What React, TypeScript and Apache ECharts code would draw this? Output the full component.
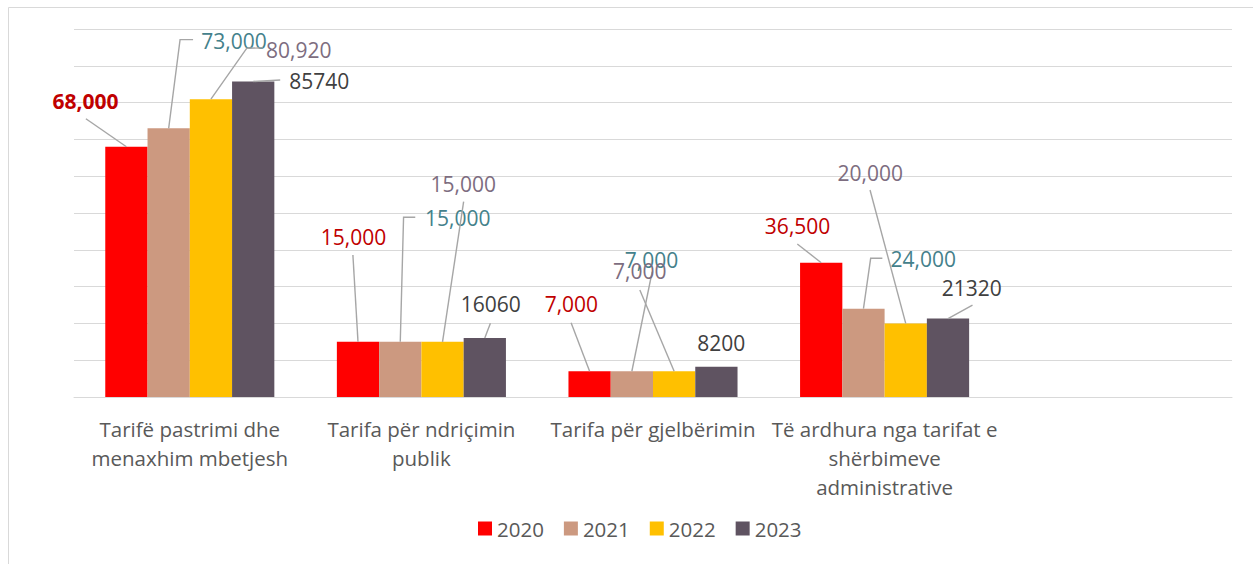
import React, { useEffect, useRef } from "react";
import * as echarts from "echarts";

// ---- data ----
const categories = [
  "Tarifë pastrimi dhe\nmenaxhim mbetjesh",
  "Tarifa për ndriçimin\npublik",
  "Tarifa për gjelbërimin",
  "Të ardhura nga tarifat e\nshërbimeve\nadministrative",
  "",
];
const years = ["2020", "2021", "2022", "2023"];
const values2020 = [68000, 15000, 7000, 36500];
const values2021 = [73000, 15000, 7000, 24000];
const values2022 = [80920, 15000, 7000, 20000];
const values2023 = [85740, 16060, 8200, 21320];
const yMin = 0;
const yMax = 100000;
const yInterval = 10000;

const seriesValues = [values2020, values2021, values2022, values2023];

// ---- styles ----
const barColors = ["#FF0000", "#CC9980", "#FFC000", "#5F5361"];
const labelColors = ["#C00000", "#44818B", "#7D6D80", "#404040"];
const FONT = '"Open Sans", "Noto Sans", sans-serif';
const CAT_GAP = 0.27;

// label placement (offsets relative to bar top centre), leader line points
type Spec = { t: number[]; l: number[][] | null; bold?: boolean };
const labelLayout: Spec[][] = [
  [
    { t: [-41, -45.5], l: [[-40.5, -28], [0, 0]], bold: true },
    { t: [-4.5, -105], l: [[-5.1, -86.8], [0, 0]] },
    { t: [-18.2, -67.2], l: [[-18.5, -48.5], [0, 0]] },
    { t: [-23.6, -36.7], l: [[-23.9, -18.7], [0, 0]] },
  ],
  [
    { t: [65.4, -87.7], l: [[24.4, -88.7], [11.4, -88.7], [0, 0]] },
    { t: [57.5, -123.8], l: [[15, -124.5], [3.3, -124.5], [0, 0]] },
    { t: [19.6, -111.2], l: [[20.3, -99.5], [0, 0]] },
    { t: [59.7, -49.7], l: [[18.9, -50.4], [7.2, -50.4], [0, 0]] },
  ],
  [
    { t: [87.9, -49.2], l: [[52.2, -51.3], [35.9, -51], [0, 0]] },
    { t: [20.8, -157.8], l: [[21.1, -140.1], [0, 0]] },
    { t: [-34.3, -100.2], l: [[-34.3, -81.2], [0, 0]] },
    { t: [-35.5, -150.9], l: [[-35.7, -133.4], [0, 0]] },
  ],
  [
    { t: [66, -0.8], l: [[27, -1.5], [0, 0]] },
    { t: [5.9, -33.9], l: [[5.6, -14.6], [0, 0]] },
    { t: [4.9, -24.3], l: null },
    { t: [23.8, -31], l: [[24.5, -13.5], [0, 0]] },
  ],
];

function fmt(v: number, s: number) {
  return s === 3 ? String(v) : v.toLocaleString("en-US");
}

export default function App() {
  const ref = useRef<HTMLDivElement>(null);
  useEffect(() => {
    if (!ref.current) return;
    const chart = echarts.init(ref.current, null, { renderer: "svg" });

    const labelData: number[][] = [];
    seriesValues.forEach((vals, s) =>
      vals.forEach((v, c) => labelData.push([c, v, s]))
    );

    const option: any = {
      animation: false,
      backgroundColor: "#FFFFFF",
      graphic: [
        {
          type: "rect",
          shape: { x: 8.5, y: 7.5, width: 1300, height: 600 },
          style: { fill: "none", stroke: "#D9D9D9", lineWidth: 1 },
          silent: true,
          z: -10,
        },
      ],
      grid: { left: 74, right: 21, top: 29, bottom: 167, containLabel: false },
      legend: {
        data: years,
        left: 473,
        top: 513,
        icon: "rect",
        itemWidth: 14,
        itemHeight: 14,
        itemGap: 20,
        textStyle: { color: "#595959", fontSize: 20.5, fontFamily: FONT },
      },
      xAxis: {
        type: "category",
        data: categories,
        axisLine: { lineStyle: { color: "#D9D9D9", width: 1 } },
        axisTick: { show: false },
        axisLabel: {
          interval: 0,
          margin: 17,
          color: "#595959",
          fontSize: 20.5,
          lineHeight: 29,
          fontFamily: FONT,
          align: "center",
        },
      },
      yAxis: {
        type: "value",
        min: yMin,
        max: yMax,
        interval: yInterval,
        axisLabel: { show: false },
        axisLine: { show: false },
        axisTick: { show: false },
        splitLine: { lineStyle: { color: "#D9D9D9", width: 1 } },
      },
      series: [
        ...years.map((y, s) => ({
          name: y,
          type: "bar",
          data: seriesValues[s],
          barGap: "0%",
          barCategoryGap: CAT_GAP * 100 + "%",
          itemStyle: { color: barColors[s] },
          label: { show: false },
        })),
        {
          name: "labels",
          type: "custom",
          data: labelData,
          encode: { x: 0, y: 1 },
          silent: true,
          clip: false,
          z: 10,
          renderItem: (params: any, api: any) => {
            const c = api.value(0);
            const v = api.value(1);
            const s = api.value(2);
            const top = api.coord([c, v]);
            const catW = api.size([1, 0])[0];
            const barW = (catW * (1 - CAT_GAP)) / 4;
            const bx = top[0] + (s - 1.5) * barW;
            const by = top[1];
            const spec = labelLayout[s][c];
            const children: any[] = [];
            if (spec.l) {
              children.push({
                type: "polyline",
                shape: { points: spec.l.map((p) => [bx + p[0], by + p[1]]) },
                style: { stroke: "#A6A6A6", lineWidth: 1.4, fill: null },
              });
            }
            children.push({
              type: "text",
              x: bx + spec.t[0],
              y: by + spec.t[1],
              style: {
                text: fmt(v, s),
                fill: labelColors[s],
                fontSize: 21,
                fontFamily: FONT,
                fontWeight: spec.bold ? "bold" : "normal",
                align: "center",
                verticalAlign: "middle",
              },
            });
            return { type: "group", children };
          },
        },
      ],
    };
    chart.setOption(option);
    return () => chart.dispose();
  }, []);

  return (
    <div
      ref={ref}
      style={{ position: "fixed", left: 0, top: 0, width: 1253, height: 564 }}
    />
  );
}
